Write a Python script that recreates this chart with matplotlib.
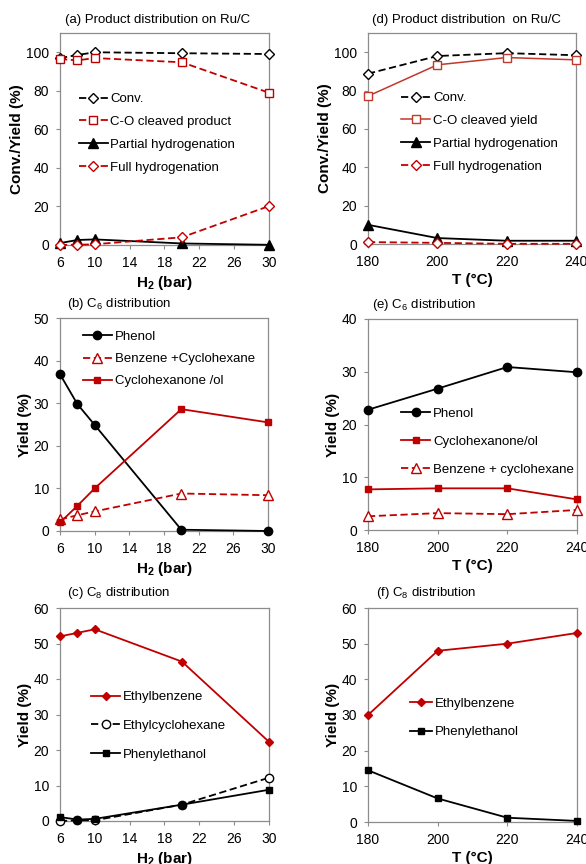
import matplotlib
matplotlib.use("Agg")
import matplotlib.pyplot as plt

plt.rcParams['font.family'] = ['Liberation Sans', 'DejaVu Sans']
plt.rcParams['mathtext.fontset'] = 'custom'
plt.rcParams['mathtext.rm'] = 'Liberation Sans'
plt.rcParams['mathtext.it'] = 'Liberation Sans:italic'
plt.rcParams['mathtext.bf'] = 'Liberation Sans:bold'

RED = '#C00000'
RED2 = '#C0392B'
BLK = '#000000'
SPINE = '#8C8C8C'

# ---------------- data ----------------
h2 = [6, 8, 10, 20, 30]
temp = [180, 200, 220, 240]

a_conv = [97.0, 98.6, 100.0, 99.5, 99.1]
a_co = [96.5, 95.8, 97.0, 94.8, 79.0]
a_partial = [1.0, 2.6, 2.9, 0.8, 0.1]
a_full = [0.1, 0.1, 0.4, 4.0, 20.2]

d_conv = [88.8, 98.0, 99.5, 98.4]
d_co = [77.1, 93.4, 97.2, 96.0]
d_partial = [10.0, 3.1, 1.7, 1.7]
d_full = [1.0, 0.6, 0.1, 0.1]

b_phenol = [36.8, 29.8, 24.9, 0.3, 0.0]
b_benz = [2.7, 3.7, 4.6, 8.8, 8.4]
b_cyc = [2.0, 5.9, 10.0, 28.6, 25.5]

e_phenol = [22.8, 26.8, 30.9, 29.9]
e_cyc = [7.7, 7.9, 7.9, 5.8]
e_benz = [2.6, 3.2, 3.0, 3.8]

c_eb = [52.0, 53.0, 54.0, 44.9, 22.3]
c_ech = [0.0, 0.2, 0.2, 4.6, 12.2]
c_pe = [1.1, 0.4, 0.6, 4.6, 8.8]

f_eb = [30.0, 48.0, 50.0, 53.0]
f_pe = [14.5, 6.6, 1.2, 0.3]

h2_ticks = [6, 10, 14, 18, 22, 26, 30]
t_ticks = [180, 200, 220, 240]

# ---------------- figure ----------------
fig = plt.figure(figsize=(5.86, 8.64), dpi=100)
W, H = 586, 864

def make_ax(l, t, r, b):
    return fig.add_axes([l / W, 1 - b / H, (r - l) / W, (b - t) / H])

axa = make_ax(60, 33, 269, 245)
axd = make_ax(368, 33, 576, 244)
axb = make_ax(60, 318, 268, 531)
axe = make_ax(368, 319, 577, 530)
axc = make_ax(60, 608, 269, 821)
axf = make_ax(368, 608, 577, 822)

FS = 9.5
LW = 1.3
DASH = (0, (4, 2))

def style(ax, xlim, xticks, ylim, yticks, xlabel, ylabel):
    ax.set_xlim(*xlim)
    ax.set_ylim(*ylim)
    ax.set_xticks(xticks)
    ax.set_yticks(yticks)
    for s in ax.spines.values():
        s.set_color(SPINE)
        s.set_linewidth(0.9)
    ax.tick_params(axis='both', direction='out', length=3, width=0.8,
                   color=SPINE, labelsize=10)
    ax.tick_params(axis='x', pad=5)
    ax.tick_params(axis='y', pad=5)
    ax.set_xlabel(xlabel, fontsize=11, fontweight='bold', labelpad=3)
    ax.set_ylabel(ylabel, fontsize=11, fontweight='bold', labelpad=1)

def title(ax, txt, x=0.03, y=1.03):
    ax.text(x, y, txt, transform=ax.transAxes, fontsize=FS,
            ha='left', va='bottom')

def plot(ax, x, y, color, ls, marker, mfc, ms=5.5, lw=LW, label=None, mew=1.0):
    ax.plot(x, y, color=color, linestyle=ls, marker=marker, markersize=ms,
            markerfacecolor=mfc, markeredgecolor=color, linewidth=lw,
            markeredgewidth=mew, clip_on=False, label=label, zorder=3)

def legend(ax, x, y, spacing, hl=2.2):
    ax.legend(loc='upper left', bbox_to_anchor=(x, y), frameon=False,
              fontsize=FS, borderpad=0, borderaxespad=0, handlelength=hl,
              handletextpad=0.2, labelspacing=spacing)

# (a)
plot(axa, h2, a_conv, BLK, DASH, 'D', 'white', ms=5, label='Conv.')
plot(axa, h2, a_co, RED, DASH, 's', 'white', label='C-O cleaved product')
plot(axa, h2, a_partial, BLK, '-', '^', BLK, ms=6.5, label='Partial hydrogenation')
plot(axa, h2, a_full, RED, DASH, 'D', 'white', ms=5, label='Full hydrogenation')
style(axa, (6, 30), h2_ticks, (0, 110), [0, 20, 40, 60, 80, 100],
      r'H$_\mathbf{2}$ (bar)', 'Conv./Yield (%)')
title(axa, '(a) Product distribution on Ru/C', x=0.025, y=1.035)
legend(axa, 0.09, 0.717, 0.8)

# (d)
plot(axd, temp, d_conv, BLK, DASH, 'D', 'white', ms=5, label='Conv.')
plot(axd, temp, d_co, RED2, '-', 's', 'white', lw=1.1, label='C-O cleaved yield')
plot(axd, temp, d_partial, BLK, '-', '^', BLK, ms=6.5, label='Partial hydrogenation')
plot(axd, temp, d_full, RED, DASH, 'D', 'white', ms=5, label='Full hydrogenation')
style(axd, (180, 240), t_ticks, (0, 110), [0, 20, 40, 60, 80, 100],
      'T (°C)', 'Conv./Yield (%)')
title(axd, '(d) Product distribution  on Ru/C', x=0.02, y=1.035)
legend(axd, 0.16, 0.72, 0.8)

# (b)
plot(axb, h2, b_phenol, BLK, '-', 'o', BLK, ms=6, label='Phenol')
plot(axb, h2, b_benz, RED, DASH, '^', 'white', ms=6.5, label='Benzene +Cyclohexane')
plot(axb, h2, b_cyc, RED, '-', 's', RED, ms=5, label='Cyclohexanone /ol')
style(axb, (6, 30), h2_ticks, (0, 50), [0, 10, 20, 30, 40, 50],
      r'H$_\mathbf{2}$ (bar)', 'Yield (%)')
title(axb, '(b) C$_6$ distribution', x=0.035, y=1.03)
legend(axb, 0.11, 0.94, 0.75)

# (e)
plot(axe, temp, e_phenol, BLK, '-', 'o', BLK, ms=6, label='Phenol')
plot(axe, temp, e_cyc, RED, '-', 's', RED, ms=5, label='Cyclohexanone/ol')
plot(axe, temp, e_benz, RED, DASH, '^', 'white', ms=6.5, label='Benzene + cyclohexane')
style(axe, (180, 240), t_ticks, (0, 40), [0, 10, 20, 30, 40],
      'T (°C)', 'Yield (%)')
title(axe, '(e) C$_6$ distribution', x=0.02, y=1.03)
legend(axe, 0.16, 0.58, 1.2)

# (c)
plot(axc, h2, c_eb, RED, '-', 'D', RED, ms=4.5, label='Ethylbenzene')
plot(axc, h2, c_ech, BLK, DASH, 'o', 'white', ms=6, label='Ethylcyclohexane')
plot(axc, h2, c_pe, BLK, '-', 's', BLK, ms=5, label='Phenylethanol')
style(axc, (6, 30), h2_ticks, (0, 60), [0, 10, 20, 30, 40, 50, 60],
      r'H$_\mathbf{2}$ (bar)', 'Yield (%)')
title(axc, '(c) C$_8$ distribution', x=0.035, y=1.035)
legend(axc, 0.15, 0.61, 1.25)

# (f)
plot(axf, temp, f_eb, RED, '-', 'D', RED, ms=4.5, label='Ethylbenzene')
plot(axf, temp, f_pe, BLK, '-', 's', BLK, ms=5, label='Phenylethanol')
style(axf, (180, 240), t_ticks, (0, 60), [0, 10, 20, 30, 40, 50, 60],
      'T (°C)', 'Yield (%)')
title(axf, '(f) C$_8$ distribution', x=0.04, y=1.035)
legend(axf, 0.2, 0.58, 1.2, hl=1.7)

fig.savefig('out.png', dpi=100)
